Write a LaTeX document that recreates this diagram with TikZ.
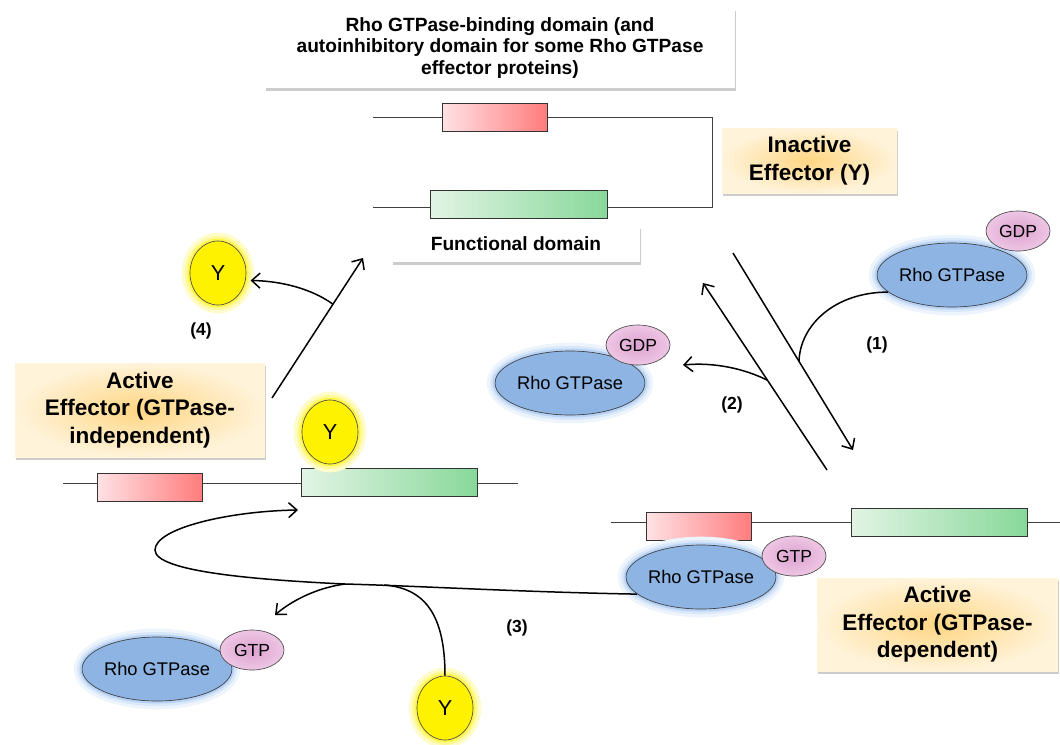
\documentclass[tikz,border=0pt]{standalone}
\usepackage{fontspec}
\setmainfont{Liberation Sans}
\usetikzlibrary{calc,shapes,arrows.meta,shadows}
\definecolor{rhofill}{HTML}{8DB4E2}
\definecolor{glowblue}{HTML}{B8D3F5}
\definecolor{gdpin}{HTML}{DCA2D0}
\definecolor{gdpout}{HTML}{EEC6E4}
\definecolor{redL}{HTML}{FFE2E5}
\definecolor{redR}{HTML}{FF7C7C}
\definecolor{greenL}{HTML}{E2F4E4}
\definecolor{greenR}{HTML}{88D89A}
\definecolor{effin}{HTML}{FFD683}
\definecolor{effout}{HTML}{FFF3DA}

\begin{document}
\begin{tikzpicture}[x=0.6pt,y=-0.6pt,
    line/.style={line width=0.9pt},
    arr/.style={line width=0.9pt,-{Straight Barb[length=5pt,width=9pt]}},
    rho/.style={ellipse,draw=black!75,fill=rhofill,minimum width=84pt,minimum height=38.4pt,inner sep=0pt,
        font=\fontsize{11}{12}\selectfont,
        preaction={draw=glowblue!25,line width=10pt},preaction={draw=glowblue!55,line width=6pt},
        preaction={draw=glowblue,line width=3pt}},
    nuc/.style={ellipse,draw=black!70,inner color=gdpin,outer color=gdpout,minimum width=38.4pt,
        minimum height=24pt,inner sep=0pt,font=\fontsize{10.5}{12}\selectfont},
    yy/.style={ellipse,draw=black!70,fill=yellow,minimum width=33.6pt,minimum height=38.4pt,inner sep=0pt,
        font=\fontsize{13}{14}\selectfont,
        preaction={draw=yellow!20,line width=10pt},preaction={draw=yellow!40,line width=6pt},
        preaction={draw=yellow!70,line width=3pt}},
    rdom/.style={draw=black!80,left color=redL,right color=redR,minimum width=63pt,minimum height=16.8pt,inner sep=0pt},
    gdom/.style={draw=black!80,left color=greenL,right color=greenR,minimum width=105.6pt,minimum height=16.8pt,inner sep=0pt},
    lbl/.style={fill=white,drop shadow={shadow xshift=0.6pt,shadow yshift=-2pt,opacity=.4},align=center,
        inner sep=0pt,font=\bfseries\fontsize{11.5}{13}\selectfont},
    eff/.style={inner color=effin,outer color=effout,drop shadow={shadow xshift=0.6pt,shadow yshift=-2pt,opacity=.4},
        align=center,inner sep=0pt,font=\bfseries\fontsize{13.5}{16.5}\selectfont},
    num/.style={font=\bfseries\fontsize{10.5}{12}\selectfont}
]
\useasboundingbox (0,0) rectangle (1060,744);

% labels
\node[lbl,minimum width=282pt,minimum height=48pt] (bind) at (500,48)
    {Rho GTPase-binding domain (and\\autoinhibitory domain for some Rho GTPase\\effector proteins)};
\node[lbl,minimum width=148.8pt,minimum height=21.6pt] (func) at (516,244) {Functional domain};
\node[eff,minimum width=105pt,minimum height=39pt] (inact) at (809.5,160.5) {Inactive\\Effector (Y)};
\node[eff,minimum width=150pt,minimum height=56.4pt] (actI) at (140,410) {Active\\Effector (GTPase-\\independent)};
\node[eff,minimum width=144.6pt,minimum height=55.8pt] (actD) at (937.5,624.5) {Active\\Effector (GTPase-\\dependent)};

% effector chains
\draw[black!75,line width=0.6pt] (373,117) -- (712,117) -- (712,207) -- (373,207);
\node[rdom] (r1) at (494.5,117) {};
\node[gdom,minimum width=106.2pt] (g1) at (518.5,204) {};
\draw[black!75,line width=0.6pt] (63,483) -- (518,483);
\node[rdom] (r2) at (149.5,487) {};
\node[gdom] (g2) at (389.5,482) {};
\draw[black!75,line width=0.6pt] (611,522) -- (1060,522);
\node[rdom] (r3) at (699,526) {};
\node[gdom] (g3) at (939,522.5) {};

% GTPases and Y
\node[rho] (rhoA) at (952,275) {Rho GTPase};
\node[nuc] (gdpA) at (1018,231) {GDP};
\node[rho] (rhoB) at (570,383) {Rho GTPase};
\node[nuc] (gdpB) at (638,345) {GDP};
\node[rho] (rhoC) at (701,577) {Rho GTPase};
\node[nuc] (gtpC) at (794,556) {GTP};
\node[rho] (rhoD) at (157,669) {Rho GTPase};
\node[nuc] (gtpD) at (252,650) {GTP};
\node[yy] (yA) at (218,273) {Y};
\node[yy] (yB) at (330,432) {Y};
\node[yy] (yD) at (445,708) {Y};

\coordinate (f1) at (733,253); \coordinate (f2) at (853,450);
\coordinate (b1) at (827,470); \coordinate (b2) at (703,283);
\coordinate (u1) at (272,398); \coordinate (u2) at (363,258);
\coordinate (j1) at ($(f1)!0.55!(f2)$);
\coordinate (j2) at ($(b1)!0.48!(b2)$);
\coordinate (j4) at ($(u1)!0.67!(u2)$);
\coordinate (j3) at (345,584);
\coordinate (j6) at (384,585);
\coordinate (t2) at (683,365);
\coordinate (t3) at (298,510);
\coordinate (t5) at (275,615);

% reactions
\draw[arr] (f1) -- (f2);
\draw[arr] (b1) -- (b2);
\draw[arr] (u1) -- (u2);
\draw[line] (rhoA.195) .. controls (835,292) and (800,325) .. (j1);
\draw[arr] (j2) .. controls (745,369) and (715,362) .. (t2);
\draw[arr,shorten >=3pt] (j4) .. controls (312,289) and (282,281) .. (yA.-15);
\draw[arr] (rhoC.195) .. controls (520,592) and (420,586) .. (j3)
    .. controls (260,580) and (155,572) .. (155,550) .. controls (155,528) and (230,511) .. (t3);
\draw[arr] (j3) .. controls (315,588) and (290,602) .. (t5);
\draw[line] (yD.north) .. controls (445,615) and (425,588) .. (j6);

\node[num] (n1) at (877,345) {(1)};
\node[num] (n2) at (732,405) {(2)};
\node[num] (n3) at (517,628) {(3)};
\node[num] (n4) at (201,331) {(4)};
\end{tikzpicture}
\end{document}
